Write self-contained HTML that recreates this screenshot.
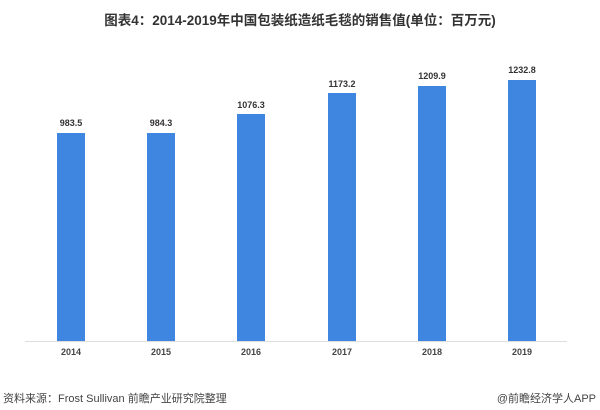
<!DOCTYPE html>
<html><head><meta charset="utf-8"><style>
html,body{margin:0;padding:0;background:#fff}
body{width:600px;height:410px;position:relative;overflow:hidden;font-family:"Liberation Sans","Noto Sans CJK SC",sans-serif}
.t{position:absolute;left:0;width:600px;top:9px;text-align:center;font-size:13.5px;font-weight:bold;color:#333}
.bar{position:absolute;width:28px;background:#3f86e0}
.v{position:absolute;width:60px;text-align:center;font-size:9px;font-weight:bold;color:#333}
.y{position:absolute;width:60px;text-align:center;font-size:9px;font-weight:bold;color:#444;top:347px}
.ax{position:absolute;left:25px;width:542px;top:341px;height:1px;background:#ddd}
.f{position:absolute;top:390px;font-size:11px;color:#444}
</style></head><body>
<div class="t">图表4：2014-2019年中国包装纸造纸毛毯的销售值(单位：百万元)</div>
<div class="ax"></div>
<div class="bar" style="left:57px;top:133px;height:208px"></div>
<div class="bar" style="left:147px;top:133px;height:208px"></div>
<div class="bar" style="left:237px;top:114px;height:227px"></div>
<div class="bar" style="left:328px;top:93px;height:248px"></div>
<div class="bar" style="left:418px;top:86px;height:255px"></div>
<div class="bar" style="left:508px;top:80px;height:261px"></div>
<div class="v" style="left:41px;top:118px">983.5</div>
<div class="v" style="left:131px;top:118px">984.3</div>
<div class="v" style="left:221px;top:100px">1076.3</div>
<div class="v" style="left:312px;top:79px">1173.2</div>
<div class="v" style="left:402px;top:71px">1209.9</div>
<div class="v" style="left:492px;top:65px">1232.8</div>
<div class="y" style="left:41px">2014</div>
<div class="y" style="left:131px">2015</div>
<div class="y" style="left:221px">2016</div>
<div class="y" style="left:312px">2017</div>
<div class="y" style="left:402px">2018</div>
<div class="y" style="left:492px">2019</div>
<div class="f" style="left:3px">资料来源：Frost Sullivan 前瞻产业研究院整理</div>
<div class="f" style="right:4px">@前瞻经济学人APP</div>
</body></html>
